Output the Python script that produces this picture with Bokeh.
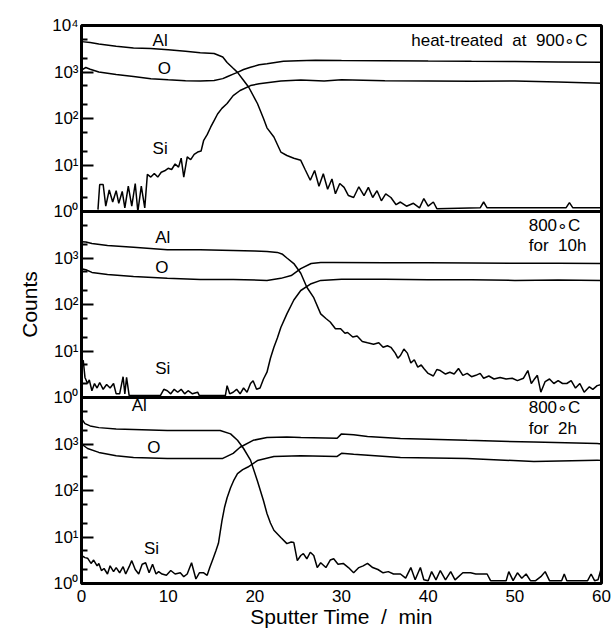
from bokeh.plotting import figure
from bokeh.models import Range1d, LogScale, FixedTicker, Span, Label
from bokeh.embed import file_html
from bokeh.resources import INLINE

# ---------------- data ----------------
# Panel 1: heat-treated at 900 C
t_al1 = [0, 1, 2, 4, 6, 8, 10, 12, 13.7, 15.3, 16.3, 16.8, 17.5, 18, 18.6, 19.3, 20.3, 21, 21.4, 22.2,
         23, 23.7, 24.5, 25.3, 25.8, 26.4, 26.9, 27.4, 27.9, 28.4, 28.9, 29.3, 29.8, 30.3, 30.8, 31.4, 32,
         32.6, 33.1, 33.6, 34.1, 34.6, 35.1, 35.7, 36.3, 36.8, 37.5, 38.3, 39, 39.5, 40, 40.6, 41, 46,
         46.4, 46.8, 55.9, 56.3, 56.7, 60]
al1 = [4500, 4300, 4000, 3600, 3300, 3200, 3000, 2800, 2600, 2500, 2100, 1600, 1200, 980, 700, 470, 210,
       100, 63, 40, 19, 16, 14, 12.6, 8, 4.7, 7.6, 3.5, 6.5, 3.0, 5, 2.4, 4, 3.3, 2.2, 2.0, 3.4, 2.2,
       3.3, 2, 2.8, 1.7, 2.4, 2.0, 1.4, 1.6, 1.3, 1.5, 1.2, 1.9, 1.3, 1.6, 1.15, 1.2, 1.6, 1.2, 1.2,
       1.55, 1.2, 1.2]
t_o1 = [0, 0.5, 1, 2, 4, 6, 8, 10, 12, 13.7, 15.3, 16.3, 16.8, 17.5, 18, 18.7, 19.5, 20.5, 21.4, 23.3,
        25, 27, 30, 35, 40, 45, 50, 55, 60]
o1 = [1100, 1250, 1150, 1000, 880, 800, 720, 680, 650, 640, 660, 720, 790, 900, 980, 1130, 1260, 1430,
      1510, 1700, 1750, 1780, 1760, 1750, 1720, 1700, 1690, 1650, 1620]
t_si1 = [1.9, 2.1, 2.5, 2.8, 3.2, 3.6, 4.0, 4.3, 4.7, 5.0, 5.4, 5.8, 6.2, 6.5, 6.9, 7.3, 7.6, 8.0, 8.4,
         8.8, 9.2, 9.6, 10, 10.4, 10.8, 11.2, 11.5, 11.8, 12.2, 12.6, 13.0, 13.4, 13.8, 14.1, 14.5, 14.9,
         15.3, 15.7, 16.2, 16.8, 17.5, 18.3, 19.5, 20.5, 21.4, 23, 25.3, 28, 30, 35, 40, 45, 50, 55, 60]
si1 = [1.1, 3.8, 3.8, 1.3, 2.9, 1.6, 2.8, 1.5, 2.7, 1.2, 3.5, 1.3, 4, 1.0, 3.5, 1.2, 6.3, 5.5, 6.6, 5.5,
       7, 7.5, 8.5, 8, 10.5, 9, 14, 5.5, 15, 13, 17, 19, 20, 34, 45, 65, 90, 125, 165, 210, 310, 400, 510,
       560, 590, 640, 675, 640, 680, 650, 640, 630, 640, 610, 575]

# Panel 2: 800 C for 10 h
t_al2 = [0, 0.5, 1.2, 3, 6, 9.9, 13.7, 17.5, 20, 21.4, 22.6, 23.2, 23.7, 24.5, 25.3, 26, 26.8, 27.6, 28.2,
         28.7, 29.3, 29.9, 30.4, 30.7, 31.3, 31.8, 32.4, 33, 33.7, 34.3, 34.8, 35.3, 35.7, 36.2, 36.5,
         36.8, 37.2, 37.6, 38, 38.4, 38.8, 39.2, 39.5, 40, 40.6, 41.0, 41.4, 42, 42.5, 43, 43.5, 44, 44.5,
         45, 45.5, 46, 46.4, 47, 47.6, 48.3, 49, 49.7, 50.3, 51, 51.5, 51.9, 52.2, 52.6, 53, 53.5, 54,
         54.5, 55, 55.5, 56, 56.5, 57, 57.5, 58, 58.6, 59, 59.5, 60]
al2 = [2240, 2200, 2050, 1850, 1700, 1510, 1500, 1450, 1420, 1380, 1320, 1200, 1000, 760, 470, 235, 140,
       63, 50, 42, 30, 30, 24, 25, 20, 21, 16, 15, 14, 15, 12, 13, 12, 9, 7, 8, 11, 9, 5.5, 6.5, 4.5, 5,
       4.2, 3.3, 2.9, 4, 3.8, 3.2, 3.5, 3.2, 4.2, 3.0, 3.3, 2.8, 3, 3.3, 2.6, 2.9, 2.5, 2.7, 2.5, 2.6,
       2.3, 2.6, 3.8, 2.0, 2.4, 3, 1.3, 2.2, 2.5, 2.0, 2.3, 2.0, 2.0, 2.3, 1.6, 2.0, 1.3, 1.7, 1.5, 1.8,
       1.9]
t_o2 = [0, 0.5, 1.2, 3, 6, 9.9, 13.7, 17.5, 21.4, 23, 24.2, 25.3, 26.5, 27.6, 29.1, 35, 40, 45, 50, 55, 60]
o2 = [590, 560, 490, 440, 400, 365, 345, 345, 330, 365, 420, 590, 760, 800, 800, 790, 790, 780, 770, 775, 760]
t_si2 = [0, 0.2, 0.4, 0.7, 0.9, 1.2, 1.5, 1.8, 2.1, 2.5, 2.9, 3.3, 3.7, 4.0, 4.4, 4.8, 5.0, 5.2, 5.5, 9.1,
         9.5, 9.9, 10.3, 10.7, 11.1, 11.5, 11.9, 12.3, 12.8, 13.4, 13.6, 16.6, 16.8, 17.1, 17.5, 17.9,
         18.3, 18.7, 19.1, 19.5, 19.8, 20.2, 20.6, 21.0, 21.4, 21.8, 22.2, 22.6, 23.0, 23.7, 24.5, 25.3,
         26.5, 27.6, 30, 35, 40, 45, 50, 55, 60]
si2 = [6, 6.3, 2.7, 2.0, 2.4, 1.4, 2.0, 1.6, 2.1, 1.5, 1.9, 1.6, 2.0, 1.2, 1.2, 2.8, 1.2, 2.7, 1.1, 1.1,
       1.5, 1.4, 1.2, 1.5, 1.3, 1.5, 1.2, 1.4, 1.2, 1.3, 1.1, 1.1, 1.8, 1.2, 1.3, 1.5, 1.2, 1.6, 1.3, 2.0,
       2.3, 1.5, 1.6, 2.5, 3.5, 7, 12, 19, 32, 63, 125, 200, 280, 330, 350, 350, 340, 340, 330, 335, 330]

# Panel 3: 800 C for 2 h
t_al3 = [0, 0.4, 1, 2, 4, 6, 9.9, 13.7, 16, 17.2, 18, 18.7, 19.5, 20.3, 21, 21.4, 21.8, 22.2, 23, 23.7,
         24.2, 24.5, 24.9, 25.3, 25.6, 26, 26.4, 26.8, 27.2, 27.6, 28.2, 28.7, 29.1, 29.6, 30.2, 30.8,
         31.4, 32, 32.5, 33, 33.6, 34.2, 34.8, 35.4, 36, 36.8, 37.4, 38, 38.5, 39.1, 39.5, 40, 40.4, 40.9,
         41.4, 42, 42.6, 43.1, 44, 44.9, 45.5, 46.8, 47.2, 49, 49.3, 49.8, 50.3, 50.8, 51.3, 51.8, 52.4,
         53.0, 53.5, 54, 55.4, 55.7, 56, 58.4, 58.8, 59.2, 59.6, 60]
al3 = [3500, 2750, 2450, 2250, 2100, 2050, 1950, 1950, 1950, 1650, 1200, 800, 450, 160, 60, 32, 20, 14,
       9.8, 7.2, 7.8, 7.6, 3.1, 4, 4.4, 3.4, 4.7, 4, 2.2, 2.8, 2.2, 3.2, 3.4, 2.6, 2.7, 2.2, 1.7, 2.2,
       2.4, 2.7, 2.2, 2.0, 1.7, 1.8, 1.6, 1.6, 1.3, 2.2, 1.2, 2.2, 1.2, 1.15, 1.8, 1.2, 1.9, 1.2, 1.8,
       1.2, 1.7, 1.7, 1.6, 1.6, 1.15, 1.15, 1.8, 1.15, 1.7, 1.3, 1.6, 1.15, 1.15, 1.4, 1.8, 1.15, 1.15,
       1.6, 1.15, 1.15, 1.6, 1.15, 1.2, 2.2]
t_o3 = [0, 0.7, 2, 4, 6, 9.9, 13.7, 16.3, 17.5, 18.3, 19.8, 21.4, 23.7, 25.3, 29.5, 30, 31.4, 33, 36.8,
        44.5, 52.2, 59.5, 60]
o3 = [1000, 800, 660, 560, 510, 490, 490, 490, 630, 850, 1200, 1380, 1410, 1380, 1330, 1650, 1580, 1450,
      1320, 1200, 1100, 1020, 1000]
t_si3 = [0, 0.4, 0.7, 1.1, 1.4, 1.8, 2.0, 2.3, 2.6, 3.0, 3.3, 3.7, 4.0, 4.4, 4.8, 5.1, 5.5, 5.8, 6.2, 6.6,
         7.0, 7.4, 7.8, 8.2, 8.6, 8.9, 9.3, 9.8, 10.3, 10.8, 11.4, 11.8, 12.2, 12.7, 13.2, 13.6, 14.1,
         14.5, 14.8, 15.2, 15.5, 15.8, 16.2, 16.5, 16.8, 17.2, 17.6, 18, 18.6, 19.2, 20.3, 22.2, 25.3,
         29.5, 30, 31.4, 36.8, 44.5, 52.2, 59.5, 60]
si3 = [4.0, 3.6, 3.5, 2.7, 3.2, 2.4, 2.7, 1.9, 2.1, 1.6, 2.4, 1.8, 2.2, 1.7, 2.3, 1.6, 2.3, 3.1, 2.0, 1.6,
       2.6, 2.8, 1.7, 2.6, 1.6, 1.8, 1.6, 1.5, 1.9, 1.6, 1.7, 1.4, 1.6, 2.8, 1.25, 1.7, 1.7, 1.5, 2.2,
       3.5, 5, 7.3, 22, 43, 70, 115, 170, 230, 280, 320, 440, 540, 560, 540, 630, 600, 510, 490, 420, 450,
       440]

x_ticks = [0, 10, 20, 30, 40, 50, 60]
NB = "\u00a0"
panel_texts = ["heat-treated" + NB + " at" + NB + " 900\u2218C", "800\u2218C", "for" + NB + " 10h",
               "800\u2218C", "for" + NB + " 2h"]
decade_labels = ["10\u2070", "10\u00b9", "10\u00b2", "10\u00b3", "10\u2074"]

FONT = "Liberation Sans"

# ---------------- figure ----------------
p = figure(width=612, height=634, x_range=Range1d(0, 60), y_range=Range1d(1, 1e12),
           y_axis_type="log", output_backend="svg", toolbar_location=None,
           min_border_left=81, min_border_right=11, min_border_top=25, min_border_bottom=51)
# three stacked panels, each spanning counts 1 .. 1e4
p.extra_y_ranges = {"p1": Range1d(1e-8, 1e4), "p2": Range1d(1e-4, 1e8)}
p.extra_y_scales = {"p1": LogScale(), "p2": LogScale()}

p.xgrid.visible = False
p.ygrid.visible = False
p.outline_line_color = "black"
p.outline_line_width = 3
p.outline_line_alpha = 1.0
p.background_fill_color = "white"
p.border_fill_color = "white"

# y axis: decades of the three panels
major = [10.0 ** k for k in range(13)]
minor = []
for k in range(12):
    minor += [2 * 10.0 ** k, 5 * 10.0 ** k]
overrides = {}
for k in range(13):
    overrides[10.0 ** k] = decade_labels[4] if k == 12 else decade_labels[k % 4]
yax = p.yaxis[0]
yax.ticker = FixedTicker(ticks=major, minor_ticks=minor)
yax.major_label_overrides = overrides
yax.major_tick_in = 12
yax.major_tick_out = 0
yax.minor_tick_in = 6
yax.minor_tick_out = 0
yax.major_tick_line_width = 2
yax.minor_tick_line_width = 2
yax.axis_line_color = None
yax.major_label_standoff = 3
yax.major_label_text_font = FONT
yax.major_label_text_font_size = "17px"
yax.major_label_text_color = "black"
yax.axis_label = "Counts"
yax.axis_label_text_font = FONT
yax.axis_label_text_font_size = "21px"
yax.axis_label_text_font_style = "normal"
yax.axis_label_text_color = "black"
yax.axis_label_standoff = 8

xax = p.xaxis[0]
xax.ticker = FixedTicker(ticks=x_ticks)
xax.major_tick_in = 0
xax.major_tick_out = 0
xax.minor_tick_in = 0
xax.minor_tick_out = 0
xax.axis_line_color = None
xax.major_label_standoff = 6
xax.major_label_text_font = FONT
xax.major_label_text_font_size = "17px"
xax.major_label_text_color = "black"
xax.axis_label = "Sputter Time" + NB + " /" + NB + " min"
xax.axis_label_text_font = FONT
xax.axis_label_text_font_size = "21px"
xax.axis_label_text_font_style = "normal"
xax.axis_label_text_color = "black"
xax.axis_label_standoff = 0

# panel separators
for loc in (1e4, 1e8):
    p.add_layout(Span(location=loc, dimension="width", line_color="black", line_width=3))

LW = 1.5
for rng, series in (("p1", ((t_al1, al1), (t_o1, o1), (t_si1, si1))),
                    ("p2", ((t_al2, al2), (t_o2, o2), (t_si2, si2))),
                    ("default", ((t_al3, al3), (t_o3, o3), (t_si3, si3)))):
    for tx, vy in series:
        p.line(tx, vy, y_range_name=rng, line_color="black", line_width=LW)


def lab(x, y, text, rng, align="left"):
    p.add_layout(Label(x=x, y=y, text=text, y_range_name=rng, text_font=FONT,
                       text_font_size="17px", text_color="black", text_align=align,
                       text_baseline="middle"))


# panel 1
lab(8.2, 4780, "Al", "p1")
lab(8.8, 1190, "O", "p1")
lab(8.2, 22.6, "Si", "p1")
lab(58.4, 4780, panel_texts[0], "p1", align="right")
# panel 2
lab(8.5, 2760, "Al", "p2")
lab(8.5, 625, "O", "p2")
lab(8.5, 4.2, "Si", "p2")
lab(51.6, 5000, panel_texts[1], "p2")
lab(51.6, 1860, panel_texts[2], "p2")
# panel 3
lab(5.8, 6700, "Al", "default")
lab(7.6, 840, "O", "default")
lab(7.2, 5.7, "Si", "default")
lab(51.6, 6100, panel_texts[3], "default")
lab(51.6, 2150, panel_texts[4], "default")

open("out.html", "w").write(file_html(p, INLINE))
